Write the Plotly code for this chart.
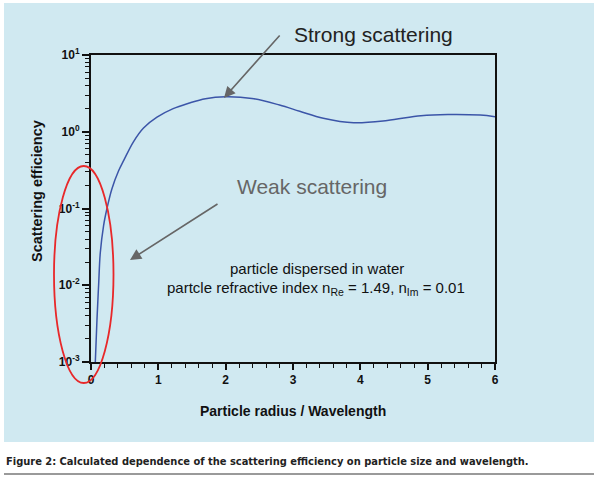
import plotly.graph_objects as go

# ---- data ----
radius = [0.064, 0.089, 0.113, 0.138, 0.187, 0.237, 0.31, 0.41, 0.49, 0.63, 0.78, 0.98,
          1.22, 1.45, 1.7, 2.0, 2.39, 2.8, 3.1, 3.45, 3.9, 4.4, 4.9, 5.3, 5.78, 6.0]
efficiency = [0.001, 0.0036, 0.01, 0.0265, 0.06, 0.1, 0.18, 0.31, 0.43, 0.74, 1.12, 1.55,
              2.0, 2.35, 2.7, 2.86, 2.72, 2.23, 1.85, 1.5, 1.31, 1.40, 1.62, 1.68, 1.65, 1.57]
y_tickvals = [0.001, 0.01, 0.1, 1, 10]
y_ticktext = ["10<sup>-3</sup>", "10<sup>-2</sup>", "10<sup>-1</sup>", "10<sup>0</sup>", "10<sup>1</sup>"]
x_tickvals = [0, 1, 2, 3, 4, 5, 6]
x_ticktext = ["0", "1", "2", "3", "4", "5", "6"]

W, H = 600, 477
ML, MR, MT, MB = 91, 105, 55, 115
PW, PH = W - ML - MR, H - MT - MB


def px(x):
    return (x - ML) / PW


def py(y):
    return (H - MB - y) / PH


y_minor = [k * 10 ** d for d in range(-3, 1) for k in range(2, 10)]

fig = go.Figure()
fig.add_trace(go.Scatter(x=radius, y=efficiency, mode="lines",
                         line=dict(color="#3b55a8", width=1.5, shape="spline"),
                         showlegend=False, hoverinfo="skip"))

BG = "#d0e9f1"
font_main = "Liberation Sans, Arial, sans-serif"

fig.update_layout(
    width=W, height=H,
    margin=dict(l=ML, r=MR, t=MT, b=MB, pad=0),
    paper_bgcolor="white",
    plot_bgcolor="rgba(0,0,0,0)",
    font=dict(family=font_main, color="#111"),
    xaxis=dict(range=[0, 6], tickvals=x_tickvals, ticktext=x_ticktext,
               ticks="outside", ticklen=6, tickwidth=1.5, tickcolor="#111",
               showline=True, linecolor="#111", linewidth=2, mirror=True,
               showgrid=False, zeroline=False,
               tickfont=dict(family=font_main, size=12, color="#111", weight="bold"),
               minor=dict(dtick=0.2, ticks="outside", ticklen=4, tickwidth=1.2, tickcolor="#111", showgrid=False)),
    yaxis=dict(type="log", range=[-3, 1], tickvals=y_tickvals, ticktext=y_ticktext,
               ticks="outside", ticklen=7, tickwidth=1.5, tickcolor="#111",
               showline=True, linecolor="#111", linewidth=2, mirror=True,
               showgrid=False, zeroline=False,
               tickfont=dict(family=font_main, size=12, color="#111", weight="bold"),
               minor=dict(tickvals=y_minor, ticks="outside", ticklen=4, tickwidth=1, tickcolor="#111", showgrid=False)),
)

shapes = [
    dict(type="rect", xref="paper", yref="paper", layer="below",
         x0=px(4), x1=px(594), y0=py(442), y1=py(3), fillcolor=BG, line=dict(width=0)),
    dict(type="line", xref="paper", yref="paper",
         x0=px(4), x1=px(594), y0=py(474), y1=py(474), line=dict(color="#9a9a9a", width=2)),
    dict(type="circle", xref="paper", yref="paper", layer="above",
         x0=px(54), x1=px(113.5), y0=py(383), y1=py(166), line=dict(color="#e8282a", width=1.8)),
]
fig.update_layout(shapes=shapes)

ann = []
# arrows
ann.append(dict(xref="paper", yref="paper", x=px(224), y=py(98), ax=57, ay=-64, text="",
                showarrow=True, arrowhead=2, arrowsize=1.4, arrowwidth=1.6, arrowcolor="#666"))
ann.append(dict(xref="paper", yref="paper", x=px(130), y=py(260), ax=89, ay=-57, text="",
                showarrow=True, arrowhead=2, arrowsize=1.4, arrowwidth=1.6, arrowcolor="#666"))
# texts
ann.append(dict(xref="paper", yref="paper", x=px(373.5), y=py(35), text="Strong scattering",
                showarrow=False, xanchor="center", yanchor="middle",
                font=dict(family=font_main, size=21, color="#222")))
ann.append(dict(xref="paper", yref="paper", x=px(312), y=py(186), text="Weak scattering",
                showarrow=False, xanchor="center", yanchor="middle",
                font=dict(family=font_main, size=21, color="#666")))
ann.append(dict(xref="paper", yref="paper", x=px(316.5), y=py(268), text="particle dispersed in water",
                showarrow=False, xanchor="center", yanchor="middle",
                font=dict(family=font_main, size=15, color="#111")))
ann.append(dict(xref="paper", yref="paper", x=px(316), y=py(288),
                text="partcle refractive index n<sub>Re</sub> = 1.49, n<sub>Im</sub> = 0.01",
                showarrow=False, xanchor="center", yanchor="middle",
                font=dict(family=font_main, size=15, color="#111")))
# axis titles
ann.append(dict(xref="paper", yref="paper", x=px(37), y=py(191), text="<b>Scattering efficiency</b>",
                showarrow=False, xanchor="center", yanchor="middle", textangle=-90,
                font=dict(family=font_main, size=14.5, color="#111")))
ann.append(dict(xref="paper", yref="paper", x=px(293), y=py(411), text="<b>Particle radius / Wavelength</b>",
                showarrow=False, xanchor="center", yanchor="middle",
                font=dict(family=font_main, size=14, color="#111")))
# caption
ann.append(dict(xref="paper", yref="paper", x=px(4), y=py(461),
                text="<b>Figure 2: Calculated dependence of the scattering efficiency on particle size and wavelength.</b>",
                showarrow=False, xanchor="left", yanchor="middle",
                font=dict(family="Liberation Sans Narrow, DejaVu Sans Condensed, sans-serif", size=11, color="#222")))
fig.update_layout(annotations=ann)

fig.write_html("out.html", config={"displayModeBar": False},
               post_script="document.body.style.margin='0';document.body.style.padding='0';")
